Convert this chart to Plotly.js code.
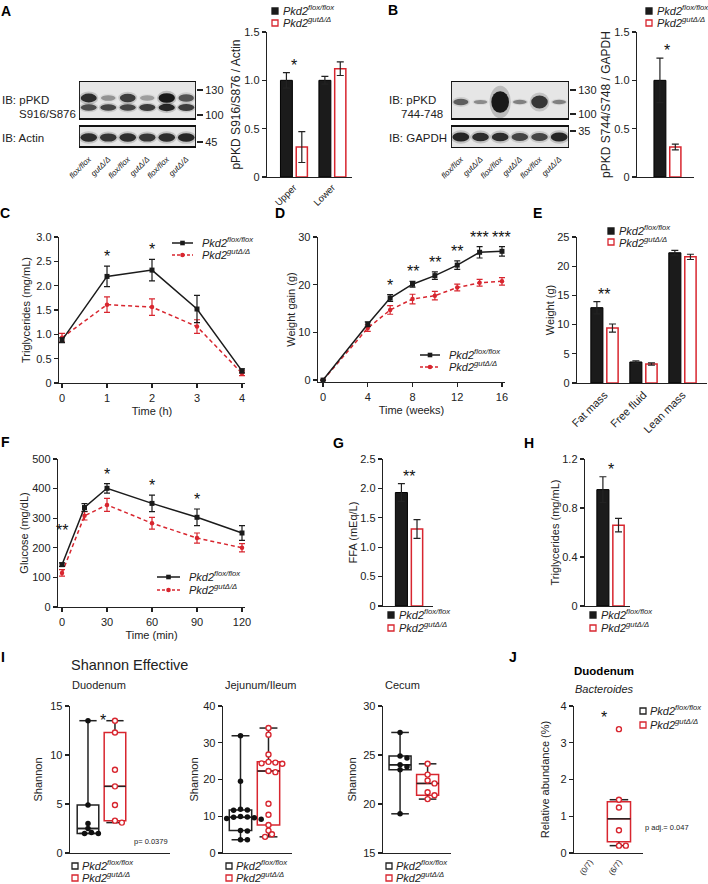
<!DOCTYPE html>
<html><head><meta charset="utf-8">
<script src="https://cdn.plot.ly/plotly-3.0.1.min.js"></script>
<style>html,body{margin:0;padding:0;background:#fff}#fig{width:708px;height:884px}</style>
</head><body><div id="fig"></div>
<script>
// ================= DATA =================
const floxName = '<i>Pkd2<sup>flox/flox</sup></i>';
const gutName = '<i>Pkd2<sup>gutΔ/Δ</sup></i>';

// A
const aCats = ['Upper', 'Lower'];
const aFlox = [1.00, 1.00];
const aFloxErr = [0.08, 0.04];
const aGut = [0.31, 1.12];
const aGutErr = [0.16, 0.07];
const aStars = ['*', ''];
const aYTicks = [0, 0.5, 1.0, 1.5];
const blotLanes = ['flox/flox', 'gutΔ/Δ', 'flox/flox', 'gutΔ/Δ', 'flox/flox', 'gutΔ/Δ'];
const aBandUpper = [0.85, 0.25, 0.75, 0.2, 1.0, 0.6];
const aBandLower = [0.65, 0.7, 0.7, 0.75, 0.9, 0.75];
const aActin = [0.85, 0.8, 0.85, 0.8, 0.85, 0.9];
const aMW = ['130', '100', '45'];

// B
const bCats = ['pPKD'];
const bFlox = [1.00];
const bFloxErr = [0.23];
const bGut = [0.31];
const bGutErr = [0.03];
const bStars = ['*'];
const bBand = [0.55, 0.3, 1.0, 0.35, 0.8, 0.35];
const bGapdh = [0.9, 0.85, 0.85, 0.7, 0.7, 0.9];
const bMW = ['130', '100', '35'];

// C
const cTime = [0, 1, 2, 3, 4];
const cFlox = [0.88, 2.19, 2.32, 1.52, 0.25];
const cFloxErr = [0.05, 0.21, 0.22, 0.28, 0.04];
const cGut = [0.93, 1.61, 1.56, 1.16, 0.20];
const cGutErr = [0.09, 0.16, 0.17, 0.14, 0.05];
const cStars = ['', '*', '*', '', ''];
const cYTicks = [0, 0.5, 1.0, 1.5, 2.0, 2.5, 3.0];

// D
const dWeeks = [0, 4, 6, 8, 10, 12, 14, 16];
const dFlox = [0, 11.7, 17.2, 20.1, 21.9, 24.1, 26.8, 27.0];
const dFloxErr = [0, 0.5, 0.7, 0.6, 0.8, 0.9, 1.2, 1.0];
const dGut = [0, 10.9, 14.7, 17.0, 17.7, 19.4, 20.4, 20.7];
const dGutErr = [0, 0.7, 0.9, 1.0, 0.9, 0.7, 0.7, 0.8];
const dStars = ['', '', '*', '**', '**', '**', '***', '***'];

// E
const eCats = ['Fat mass', 'Free fluid', 'Lean mass'];
const eFlox = [12.9, 3.6, 22.3];
const eFloxErr = [1.05, 0.2, 0.4];
const eGut = [9.4, 3.25, 21.6];
const eGutErr = [0.7, 0.2, 0.45];
const eStars = ['**', '', ''];

// F
const fTime = [0, 15, 30, 60, 90, 120];
const fFlox = [143, 336, 401, 350, 303, 250];
const fFloxErr = [6, 13, 16, 28, 28, 25];
const fGut = [115, 308, 345, 283, 233, 200];
const fGutErr = [11, 14, 22, 20, 17, 14];
const fStars = ['**', '', '*', '*', '*', ''];

// G
const gCats = ['FFA'];
const gFlox = [1.93];
const gFloxErr = [0.15];
const gGut = [1.31];
const gGutErr = [0.16];
const gStars = ['**'];
const gYTicks = [0, 0.5, 1.0, 1.5, 2.0, 2.5];

// H
const hCats = ['TG'];
const hFlox = [0.95];
const hFloxErr = [0.105];
const hGut = [0.66];
const hGutErr = [0.055];
const hStars = ['*'];
const hYTicks = [0, 0.4, 0.8, 1.2];

// I  (Shannon effective)
const duoFlox = [13.5, 4.9, 3.0, 2.5, 2.1, 2.0, 2.0];
const duoGut = [13.5, 12.3, 8.5, 6.8, 4.9, 3.3, 3.1];
const jejFlox = [31.9, 19.5, 11.9, 11.7, 11.6, 9.9, 9.8, 9.7, 9.6, 9.4, 9.2, 6.1, 6.0, 3.6, 3.6];
const jejGut = [34.0, 32.2, 26.8, 24.8, 24.6, 24.4, 24.3, 22.3, 22.0, 13.4, 10.4, 7.6, 6.1, 5.1, 4.4];
const cecFlox = [27.3, 24.9, 24.7, 24.0, 23.8, 23.5, 19.0];
const cecGut = [24.1, 23.0, 22.4, 22.1, 21.2, 20.9, 20.5];
const duoP = 'p= 0.0379';

// J
const jCats = ['(0/7)', '(6/7)'];
const jGut = [3.37, 1.45, 1.24, 0.62, 0.2, 0.2];
const jP = 'p adj.= 0.047';

// ================= STYLE / HELPERS =================
const RED = '#d8262f', BLK = '#1b1b1b', AX = '#222';
const FONT = '"Liberation Sans", Arial, Helvetica, sans-serif';
const W = 708, H = 884;
const px = v => v / W, py = v => 1 - v / H;
const tf = (size, extra) => Object.assign({size: size, color: AX, family: FONT}, extra || {});
const fmt = (vals, d) => vals.map(v => v === 0 ? '0' : v.toFixed(d));

const layout = {
  width: W, height: H, margin: {l: 0, r: 0, t: 0, b: 0},
  paper_bgcolor: '#fff', plot_bgcolor: 'rgba(0,0,0,0)', showlegend: false,
  font: {family: FONT, size: 11, color: AX},
  barmode: 'overlay', boxmode: 'overlay', annotations: [], shapes: []
};
const traces = [];
const ann = layout.annotations, shp = layout.shapes;

function axBase(extra) {
  return Object.assign({
    showgrid: false, zeroline: false, showline: true, linecolor: AX, linewidth: 1.3,
    ticks: 'outside', ticklen: 4, tickwidth: 1.3, tickcolor: AX, tickfont: tf(11), fixedrange: true
  }, extra);
}
let axCount = 0;
function addPanel(s) {
  axCount++;
  const n = axCount === 1 ? '' : String(axCount);
  layout['xaxis' + n] = axBase(Object.assign({domain: [px(s.x0), px(s.x1)], anchor: 'y' + n, range: s.xr}, s.xax || {}));
  layout['yaxis' + n] = axBase(Object.assign({domain: [py(s.yb), py(s.yt)], anchor: 'x' + n, range: s.yr}, s.yax || {}));
  const P = {x: 'x' + n, y: 'y' + n, s: s,
    ppu: (s.yb - s.yt) / Math.abs(s.yr[1] - s.yr[0]),
    ppx: (s.x1 - s.x0) / Math.abs(s.xr[1] - s.xr[0])};
  traces.push({type: 'scatter', x: [], y: [], xaxis: P.x, yaxis: P.y, hoverinfo: 'skip'});
  return P;
}
function ytitle(t, standoff, size) { return {text: t, font: tf(size || 11), standoff: standoff}; }
function text(t, xp, yp, o) {
  ann.push(Object.assign({text: t, x: px(xp), y: py(yp), xref: 'paper', yref: 'paper', showarrow: false,
    xanchor: 'left', yanchor: 'middle', font: tf(11)}, o || {}));
}
function star(P, x, y, t, shift) {
  if (!t) return;
  ann.push({text: t, x: x, y: y, xref: P.x, yref: P.y, showarrow: false, xanchor: 'center', yanchor: 'bottom',
    yshift: shift === undefined ? -3 : shift, font: tf(16, {color: '#111'})});
}
function legSquare(xp, yp, filled, color) {
  shp.push({type: 'rect', xref: 'paper', yref: 'paper', x0: px(xp), x1: px(xp + 6), y0: py(yp + 3), y1: py(yp - 3),
    fillcolor: filled ? color : '#fff', line: {color: color, width: 1.3}});
}
function legLine(x0, x1, yp, color, dash, sym) {
  shp.push({type: 'line', xref: 'paper', yref: 'paper', x0: px(x0), x1: px(x1), y0: py(yp), y1: py(yp),
    line: {color: color, width: 1.5, dash: dash}});
  const m = (x0 + x1) / 2;
  shp.push({type: sym, xref: 'paper', yref: 'paper', x0: px(m - 2.3), x1: px(m + 2.3), y0: py(yp + 2.3), y1: py(yp - 2.3),
    fillcolor: color, line: {color: color, width: 0}});
}
function barPair(P, cats, flox, floxErr, gut, gutErr, stars) {
  const eb = arr => ({type: 'data', array: arr, color: AX, thickness: 1.2, width: 3.5});
  traces.push({type: 'bar', x: cats, y: flox, xaxis: P.x, yaxis: P.y, offset: -0.35, width: 0.31,
    marker: {color: BLK, line: {color: '#000', width: 1}}, error_y: eb(floxErr), hoverinfo: 'skip'});
  traces.push({type: 'bar', x: cats, y: gut, xaxis: P.x, yaxis: P.y, offset: 0.06, width: 0.29,
    marker: {color: '#fff', line: {color: RED, width: 1.5}}, error_y: eb(gutErr), hoverinfo: 'skip'});
  cats.forEach((c, i) => star(P, c, Math.max(flox[i] + floxErr[i], gut[i] + gutErr[i]), stars[i]));
}
function linePair(P, xs, flox, floxErr, gut, gutErr) {
  traces.push({type: 'scatter', mode: 'lines+markers', x: xs, y: gut, xaxis: P.x, yaxis: P.y,
    line: {color: RED, width: 1.5, dash: '4px,3px'}, marker: {symbol: 'circle', size: 4.5, color: RED},
    error_y: {type: 'data', array: gutErr, color: RED, thickness: 1.2, width: 3}, hoverinfo: 'skip'});
  traces.push({type: 'scatter', mode: 'lines+markers', x: xs, y: flox, xaxis: P.x, yaxis: P.y,
    line: {color: BLK, width: 1.5}, marker: {symbol: 'square', size: 5, color: BLK},
    error_y: {type: 'data', array: floxErr, color: BLK, thickness: 1.2, width: 3}, hoverinfo: 'skip'});
}
// quantiles
function quantPrism(s, p) {
  const n = s.length, r = p * (n + 1);
  if (r <= 1) return s[0];
  if (r >= n) return s[n - 1];
  const lo = Math.floor(r);
  return s[lo - 1] + (r - lo) * (s[lo] - s[lo - 1]);
}
function quantLinear(s, p) {
  const r = p * (s.length - 1), lo = Math.floor(r), hi = Math.min(lo + 1, s.length - 1);
  return s[lo] + (r - lo) * (s[hi] - s[lo]);
}
function boxStats(vals, method) {
  const s = [...vals].sort((a, b) => a - b);
  const q = method === 'tukey' ? quantLinear : quantPrism;
  const q1 = q(s, 0.25), med = q(s, 0.5), q3 = q(s, 0.75);
  let lf = s[0], uf = s[s.length - 1];
  if (method === 'tukey') {
    const iqr = q3 - q1;
    lf = s.find(v => v >= q1 - 1.5 * iqr);
    uf = [...s].reverse().find(v => v <= q3 + 1.5 * iqr);
  }
  return {q1, med, q3, lf, uf};
}
function swarm(vals, ppu, ppx, d) {
  const idx = vals.map((v, i) => i).sort((a, b) => vals[b] - vals[a]);
  const placed = [], off = new Array(vals.length).fill(0);
  idx.forEach(i => {
    const yp = vals[i] * ppu;
    for (let k = 0; k < 40; k++) {
      const c = k === 0 ? 0 : (k % 2 ? 1 : -1) * Math.ceil(k / 2) * d * 0.75;
      if (placed.every(p => Math.hypot(p.x - c, p.y - yp) >= d)) {
        placed.push({x: c, y: yp}); off[i] = c / ppx; break;
      }
    }
  });
  return off;
}
function boxGroup(P, pos, vals, color, method, open) {
  const st = boxStats(vals, method), hw = 0.4, cw = 0.32;
  traces.push({type: 'box', x: [pos], q1: [st.q1], median: [st.med], q3: [st.q3], lowerfence: [st.q1], upperfence: [st.q3],
    width: 2 * hw, boxpoints: false, line: {color: color, width: 1.5}, fillcolor: 'rgba(0,0,0,0)',
    xaxis: P.x, yaxis: P.y, hoverinfo: 'skip'});
  traces.push({type: 'scatter', mode: 'lines', xaxis: P.x, yaxis: P.y, hoverinfo: 'skip',
    x: [pos - hw, pos + hw, null, pos, pos, null, pos, pos, null, pos - cw, pos + cw, null, pos - cw, pos + cw],
    y: [st.med, st.med, null, st.q3, st.uf, null, st.q1, st.lf, null, st.uf, st.uf, null, st.lf, st.lf],
    line: {color: AX, width: 1.5}});
  const off = swarm(vals, P.ppu, P.ppx, 4.6);
  traces.push({type: 'scatter', mode: 'markers', xaxis: P.x, yaxis: P.y, hoverinfo: 'skip',
    x: vals.map((v, i) => pos + off[i]), y: vals,
    marker: open ? {symbol: 'circle', size: 5, color: '#fff', line: {color: color, width: 1.4}}
                 : {symbol: 'circle', size: 5.5, color: '#111', line: {width: 0}}});
}
function bandRow(P, yc, vals, hFn, wFn) {
  vals.forEach((v, i) => {
    const x = i + 1, h = hFn(v), w = wFn(v);
    shp.push({type: 'circle', xref: P.x, yref: P.y, x0: x - w * 1.2, x1: x + w * 1.2, y0: yc - h * 1.5, y1: yc + h * 1.5,
      fillcolor: 'rgba(40,40,40,' + (0.22 * v).toFixed(3) + ')', line: {width: 0}});
    shp.push({type: 'circle', xref: P.x, yref: P.y, x0: x - w, x1: x + w, y0: yc - h, y1: yc + h,
      fillcolor: 'rgba(15,15,15,' + (0.15 + 0.8 * v).toFixed(3) + ')', line: {width: 0}});
  });
}
function blotBox(P, y0, y1) {
  shp.push({type: 'rect', xref: P.x, yref: P.y, x0: 0.5, x1: 6.5, y0: y0, y1: y1, fillcolor: '#e6e6e6', line: {width: 0}, layer: 'below'});
}
function blotFrame(P, y0, y1) {
  shp.push({type: 'rect', xref: P.x, yref: P.y, x0: 0.5, x1: 6.5, y0: y0, y1: y1, fillcolor: 'rgba(0,0,0,0)', line: {color: '#111', width: 1.8}});
}

// ================= PANEL A =================
const PA = addPanel({x0: 267, x1: 352, yt: 32, yb: 177, xr: [-0.70, 1.51], yr: [0, 1.5],
  xax: {type: 'category', ticks: '', tickangle: -45, tickfont: tf(9.5)},
  yax: {tickvals: aYTicks, ticktext: fmt(aYTicks, 1), title: ytitle('pPKD S916/S876 / Actin', 1, 12)}});
barPair(PA, aCats, aFlox, aFloxErr, aGut, aGutErr, aStars);
const BA = addPanel({x0: 79, x1: 196, yt: 81, yb: 148, xr: [0.5, 6.5], yr: [67, 0],
  xax: {showline: false, ticks: '', tickvals: [1, 2, 3, 4, 5, 6], ticktext: blotLanes, tickangle: -45,
    tickfont: tf(8, {style: 'italic'}), ticklabelstandoff: 4},
  yax: {side: 'right', showline: false, ticks: 'outside', ticklen: 6, tickvals: [9, 34, 61], ticktext: aMW, tickfont: tf(11)}});
blotBox(BA, 0, 38); blotBox(BA, 45, 66);
bandRow(BA, 17, aBandUpper, v => 2.2 + 2.6 * v, v => 0.36 + 0.06 * v);
bandRow(BA, 26.5, aBandLower, v => 2.2 + 1.6 * v, v => 0.38 + 0.04 * v);
bandRow(BA, 56.5, aActin, v => 2.8 + 1.6 * v, v => 0.4 + 0.03 * v);
blotFrame(BA, 0, 38); blotFrame(BA, 45, 66);
text('IB: pPKD', 0, 100, {font: tf(11.5)});
text('S916/S876', 17, 114, {font: tf(11.5)});
text('IB: Actin', 0, 138, {font: tf(11.5)});
text('<b>A</b>', 6, 11, {xanchor: 'center', font: tf(14, {color: '#000'})});
legSquare(272, 11, true, BLK); text(floxName, 281, 10);
legSquare(272, 23, false, RED); text(gutName, 281, 22);

// ================= PANEL B =================
const PB = addPanel({x0: 637, x1: 694, yt: 32, yb: 177, xr: [-0.79, 0.69], yr: [0, 1.5],
  xax: {type: 'category', ticks: '', showticklabels: false},
  yax: {tickvals: aYTicks, ticktext: fmt(aYTicks, 1), title: ytitle('pPKD S744/S748 / GAPDH', 1, 12)}});
barPair(PB, bCats, bFlox, bFloxErr, bGut, bGutErr, bStars);
const BB = addPanel({x0: 451, x1: 569, yt: 81, yb: 148, xr: [0.5, 6.5], yr: [67, 0],
  xax: {showline: false, ticks: '', tickvals: [1, 2, 3, 4, 5, 6], ticktext: blotLanes, tickangle: -45,
    tickfont: tf(8, {style: 'italic'}), ticklabelstandoff: 4},
  yax: {side: 'right', showline: false, ticks: 'outside', ticklen: 6, tickvals: [9, 33, 50], ticktext: bMW, tickfont: tf(11)}});
blotBox(BB, 0, 38); blotBox(BB, 45, 67);
bandRow(BB, 21, bBand, v => 1.8 + 9 * Math.pow(v, 3), v => 0.3 + 0.15 * v);
bandRow(BB, 56, bGapdh, v => 2.8 + 1.8 * v, v => 0.4 + 0.03 * v);
blotFrame(BB, 0, 38); blotFrame(BB, 45, 67);
text('IB: pPKD', 387, 100, {font: tf(11.5)});
text('744-748', 445, 114, {xanchor: 'right', font: tf(11.5)});
text('IB: GAPDH', 387, 138, {font: tf(11.5)});
text('<b>B</b>', 393, 10, {xanchor: 'center', font: tf(14, {color: '#000'})});
legSquare(646, 11, true, BLK); text(floxName, 655, 10);
legSquare(646, 23, false, RED); text(gutName, 655, 22);

// ================= PANEL C =================
const PC = addPanel({x0: 59, x1: 245, yt: 237, yb: 383, xr: [-0.067, 4.067], yr: [0, 3],
  xax: {tickvals: cTime, title: {text: 'Time (h)', font: tf(11), standoff: 4}},
  yax: {tickvals: cYTicks, ticktext: fmt(cYTicks, 1), title: ytitle('Triglycerides (mg/mL)', 3)}});
linePair(PC, cTime, cFlox, cFloxErr, cGut, cGutErr);
cTime.forEach((t, i) => star(PC, t, cFlox[i] + cFloxErr[i], cStars[i], -1));
legLine(172, 193, 243, BLK, 'solid', 'rect'); text(floxName, 200, 242);
legLine(172, 193, 255, RED, '3px,2px', 'circle'); text(gutName, 200, 254);
text('<b>C</b>', 5, 213, {xanchor: 'center', font: tf(14, {color: '#000'})});

// ================= PANEL D =================
const PD = addPanel({x0: 318, x1: 505, yt: 237, yb: 382, xr: [-0.45, 16.27], yr: [-0.4, 30],
  xax: {tickvals: [0, 4, 8, 12, 16], title: {text: 'Time (weeks)', font: tf(11), standoff: 4}},
  yax: {tickvals: [0, 10, 20, 30], title: ytitle('Weight gain (g)', 0)}});
linePair(PD, dWeeks, dFlox, dFloxErr, dGut, dGutErr);
dWeeks.forEach((t, i) => star(PD, t, dFlox[i] + dFloxErr[i], dStars[i], -1));
legLine(420, 440, 355, BLK, 'solid', 'rect'); text(floxName, 447, 354);
legLine(420, 440, 367, RED, '3px,2px', 'circle'); text(gutName, 447, 366);
text('<b>D</b>', 280, 213, {xanchor: 'center', font: tf(14, {color: '#000'})});

// ================= PANEL E =================
const PE = addPanel({x0: 577, x1: 707, yt: 237, yb: 383, xr: [-0.705, 2.63], yr: [0, 25],
  xax: {type: 'category', ticks: '', tickangle: -45, tickfont: tf(11)},
  yax: {tickvals: [0, 5, 10, 15, 20, 25], title: ytitle('Weight (g)', 0)}});
barPair(PE, eCats, eFlox, eFloxErr, eGut, eGutErr, eStars);
legSquare(608, 231, true, BLK); text(floxName, 617, 230);
legSquare(608, 242, false, RED); text(gutName, 617, 242);
text('<b>E</b>', 537, 213, {xanchor: 'center', font: tf(14, {color: '#000'})});

// ================= PANEL F =================
const PF = addPanel({x0: 58, x1: 245, yt: 459, yb: 607, xr: [-2.67, 122], yr: [0, 500],
  xax: {tickvals: [0, 30, 60, 90, 120], title: {text: 'Time (min)', font: tf(11), standoff: 4}},
  yax: {tickvals: [0, 100, 200, 300, 400, 500], title: ytitle('Glucose (mg/dL)', 1)}});
linePair(PF, fTime, fFlox, fFloxErr, fGut, fGutErr);
fTime.forEach((t, i) => star(PF, t, fFlox[i] + fFloxErr[i], fStars[i], i === 0 ? 22 : -1));
legLine(157, 180, 577, BLK, 'solid', 'rect'); text(floxName, 187, 576);
legLine(157, 180, 590, RED, '3px,2px', 'circle'); text(gutName, 187, 589);
text('<b>F</b>', 5, 442, {xanchor: 'center', font: tf(14, {color: '#000'})});

// ================= PANEL G =================
const PG = addPanel({x0: 383, x1: 433, yt: 459, yb: 606, xr: [-0.667, 0.615], yr: [0, 2.5],
  xax: {type: 'category', ticks: '', showticklabels: false},
  yax: {tickvals: gYTicks, ticktext: fmt(gYTicks, 1), title: ytitle('FFA (mEq/L)', 0)}});
barPair(PG, gCats, gFlox, gFloxErr, gGut, gGutErr, gStars);
legSquare(388, 615, true, BLK); text(floxName, 397, 614);
legSquare(388, 628, false, RED); text(gutName, 397, 627);
text('<b>G</b>', 338, 443, {xanchor: 'center', font: tf(14, {color: '#000'})});

// ================= PANEL H =================
const PH = addPanel({x0: 585, x1: 630, yt: 459, yb: 606, xr: [-0.654, 0.50], yr: [0, 1.2],
  xax: {type: 'category', ticks: '', showticklabels: false},
  yax: {tickvals: hYTicks, ticktext: fmt(hYTicks, 1), title: ytitle('Triglycerides (mg/mL)', 0)}});
barPair(PH, hCats, hFlox, hFloxErr, hGut, hGutErr, hStars);
legSquare(590, 615, true, BLK); text(floxName, 599, 614);
legSquare(590, 628, false, RED); text(gutName, 599, 627);
text('<b>H</b>', 529, 443, {xanchor: 'center', font: tf(14, {color: '#000'})});

// ================= PANEL I =================
const iX = {ticks: '', showticklabels: false};
const PI1 = addPanel({x0: 70, x1: 170, yt: 706, yb: 853, xr: [-0.667, 3.04], yr: [0, 15],
  xax: iX, yax: {tickvals: [0, 5, 10, 15], title: ytitle('Shannon', 5)}});
boxGroup(PI1, 0, duoFlox, AX, 'prism', false);
boxGroup(PI1, 1, duoGut, RED, 'prism', true);
star(PI1, 0.55, Math.max(...duoFlox, ...duoGut), '*', -10);
const PI2 = addPanel({x0: 223, x1: 292, yt: 706, yb: 853, xr: [-0.625, 1.84], yr: [0, 40],
  xax: iX, yax: {tickvals: [0, 10, 20, 30, 40], title: ytitle('Shannon', 2)}});
boxGroup(PI2, 0, jejFlox, AX, 'prism', false);
boxGroup(PI2, 1, jejGut, RED, 'prism', true);
const PI3 = addPanel({x0: 383, x1: 451, yt: 706, yb: 853, xr: [-0.62, 1.85], yr: [15, 30],
  xax: iX, yax: {tickvals: [15, 20, 25, 30], title: ytitle('Shannon', 4)}});
boxGroup(PI3, 0, cecFlox, AX, 'prism', false);
boxGroup(PI3, 1, cecGut, RED, 'prism', true);
text('<b>I</b>', 3, 657, {xanchor: 'center', font: tf(14, {color: '#000'})});
text('Shannon Effective', 69, 665, {font: tf(14.5)});
text('Duodenum', 70, 685);
text('Jejunum/Ileum', 223, 685);
text('Cecum', 383, 685);
text(duoP, 132, 841, {font: tf(7.5)});
[[72, 80], [226, 234], [386, 394]].forEach(([sx, tx]) => {
  legSquare(sx, 866, false, AX); text(floxName, tx, 865);
  legSquare(sx, 878, false, RED); text(gutName, tx, 877);
});

// ================= PANEL J =================
const PJ = addPanel({x0: 574, x1: 643, yt: 706, yb: 853, xr: [-0.55, 1.83], yr: [0, 4],
  xax: {ticks: '', tickvals: [0, 1], ticktext: jCats, tickangle: -55, tickfont: tf(8)},
  yax: {tickvals: [0, 1, 2, 3, 4], title: ytitle('Relative abundance (%)', 8)}});
boxGroup(PJ, 1, jGut, RED, 'tukey', true);
star(PJ, 0.5, Math.max(...jGut) + 0.2, '*', -6);
text(jP, 643, 827, {font: tf(7.5)});
text('<b>J</b>', 513, 657, {xanchor: 'center', font: tf(14, {color: '#000'})});
text('<b>Duodenum</b>', 604, 671, {xanchor: 'center', font: tf(11.5, {color: '#000'})});
text('<i>Bacteroides</i>', 604, 689, {xanchor: 'center', font: tf(11)});
legSquare(640, 711, false, AX); text(floxName, 648, 710);
legSquare(640, 725, false, RED); text(gutName, 648, 724);

Plotly.newPlot('fig', traces, layout, {staticPlot: true, displayModeBar: false});
</script>
</body></html>
